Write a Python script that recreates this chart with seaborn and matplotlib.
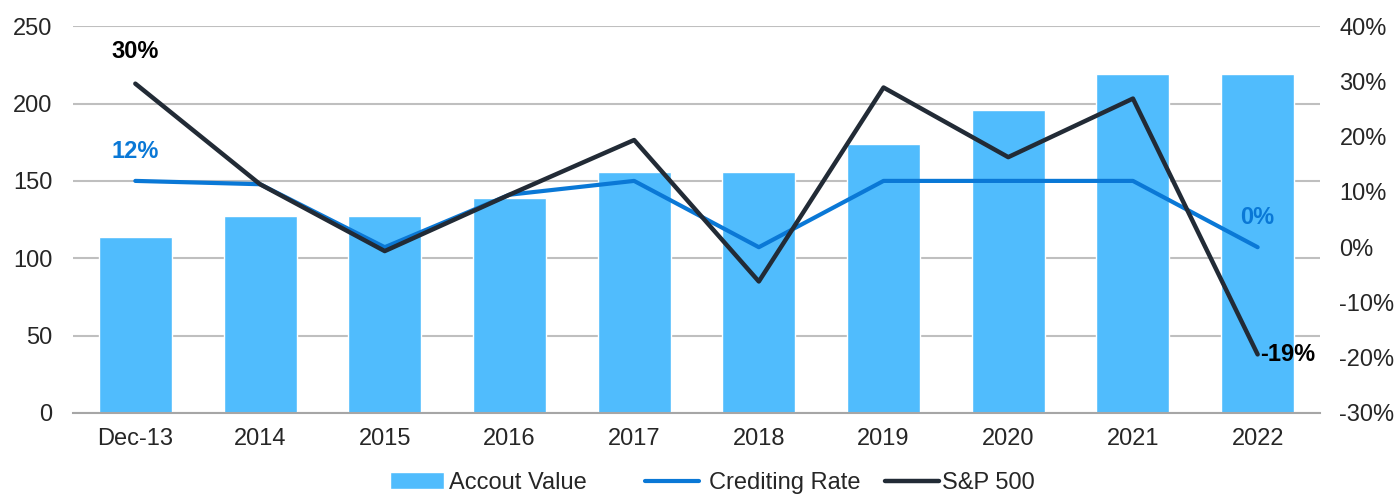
import numpy as np
import pandas as pd
import matplotlib.pyplot as plt
import seaborn as sns

# chart data
years = ['Dec-13', '2014', '2015', '2016', '2017', '2018', '2019', '2020', '2021', '2022']
account_value = [114, 127, 127, 139, 156, 156, 174, 196, 219, 219]
crediting_rate = [12, 11.4, 0, 9.5, 12, 0, 12, 12, 12, 0]
sp500 = [29.6, 11.4, -0.7, 9.5, 19.4, -6.2, 28.9, 16.3, 26.9, -19.4]

bar_color = '#50BCFD'
rate_color = '#0A78D6'
sp_color = '#222B36'
fs = 17

sns.set_style('white')
plt.rcParams['font.family'] = ['Liberation Sans', 'DejaVu Sans']
plt.rcParams['font.size'] = fs

df = pd.DataFrame({'year': years, 'value': account_value,
                   'pos': np.arange(len(years)),
                   'rate': crediting_rate, 'sp': sp500})

fig = plt.figure(figsize=(13.98, 4.94), dpi=100)
ax = fig.add_axes([0.0522, 0.164, 0.892, 0.783])

sns.barplot(data=df, x='year', y='value', color=bar_color, saturation=1,
            width=0.585, ax=ax, label='Accout Value', zorder=2)
ax.set_ylim(0, 250)
ax.set_yticks(range(0, 251, 50))
ax.set_xlim(-0.5, len(years) - 0.5)
ax.yaxis.grid(True, color='#BFBFBF', linewidth=1.5, zorder=0)
ax.set_axisbelow(True)
for s in ['top', 'left', 'right']:
    ax.spines[s].set_visible(False)
ax.spines['bottom'].set_color('#A6A6A6')
ax.spines['bottom'].set_linewidth(1.5)
ax.tick_params(axis='y', length=0, pad=15, labelsize=fs)
ax.tick_params(axis='x', length=0, pad=11, labelsize=fs)
ax.set_xlabel('')
ax.set_ylabel('')

ax2 = ax.twinx()
sns.lineplot(data=df, x='pos', y='rate', color=rate_color, linewidth=3.0,
             ax=ax2, label='Crediting Rate', sort=False, legend=False)
sns.lineplot(data=df, x='pos', y='sp', color=sp_color, linewidth=3.2,
             ax=ax2, label='S&P 500', sort=False, legend=False)
ax2.set_ylim(-30, 40)
ax2.set_yticks(range(-30, 41, 10))
ax2.set_yticklabels([f'{t}%' for t in range(-30, 41, 10)])
ax2.set_xlim(-0.5, len(years) - 0.5)
for s in ['top', 'left', 'right', 'bottom']:
    ax2.spines[s].set_visible(False)
ax2.tick_params(axis='y', length=0, pad=14, labelsize=fs)
ax2.set_xlabel('')
ax2.set_ylabel('')

# data labels
ax2.annotate(f'{sp500[0]:.0f}%', (0, sp500[0]), xytext=(0, 15), textcoords='offset points',
             ha='center', va='bottom', fontweight='bold', color='black', fontsize=fs)
ax2.annotate(f'{crediting_rate[0]:.0f}%', (0, crediting_rate[0]), xytext=(0, 13), textcoords='offset points',
             ha='center', va='bottom', fontweight='bold', color=rate_color, fontsize=fs)
ax2.annotate(f'{crediting_rate[-1]:.0f}%', (9, crediting_rate[-1]), xytext=(0, 13), textcoords='offset points',
             ha='center', va='bottom', fontweight='bold', color=rate_color, fontsize=fs)
ax2.annotate(f'{sp500[-1]:.0f}%', (9, sp500[-1]), xytext=(2, 0), textcoords='offset points',
             ha='left', va='center', fontweight='bold', color='black', fontsize=fs)

h1, l1 = ax.get_legend_handles_labels()
h2, l2 = ax2.get_legend_handles_labels()
if ax.get_legend() is not None:
    ax.get_legend().remove()

# legend entries placed one by one, as spaced in the original
legend_x = [390, 645, 885]
text_pad = [0.2, 0.42, 0.1]
for h, l, x, p in zip(h1 + h2, l1 + l2, legend_x, text_pad):
    fig.legend([h], [l], loc='center left', bbox_to_anchor=(x / 1398, 1 - 483 / 494),
               frameon=False, fontsize=fs, handlelength=2.3, handletextpad=p,
               borderpad=0, borderaxespad=0)

fig.savefig('out.png', dpi=100)
